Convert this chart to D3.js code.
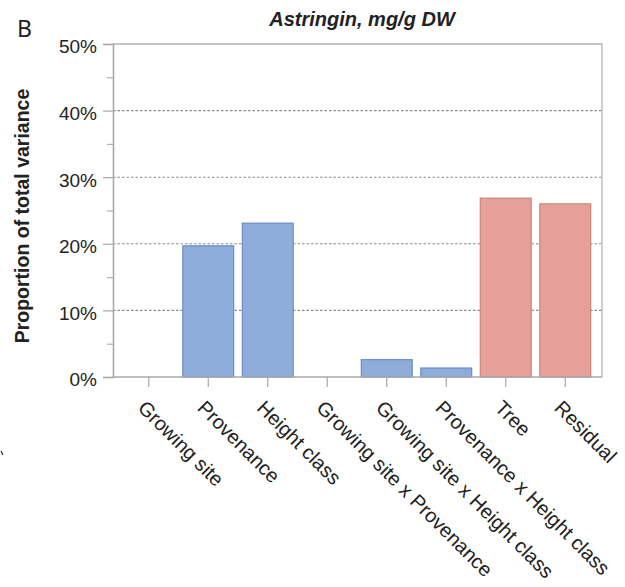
<!DOCTYPE html>
<html>
<head>
<meta charset="utf-8">
<script src="https://cdn.jsdelivr.net/npm/d3@7"></script>
<style>
  html, body { margin: 0; padding: 0; background: #fff; }
  svg { display: block; }
  text { font-family: "Liberation Sans", Arial, sans-serif; fill: #222; }
</style>
</head>
<body>
<div id="chart"></div>
<script>
// Variance components for astringin content
const categories = [
  "Growing site",
  "Provenance",
  "Height class",
  "Growing site x Provenance",
  "Growing site x Height class",
  "Provenance x Height class",
  "Tree",
  "Residual"
];
const proportions = [0, 0.197, 0.231, 0, 0.026, 0.0135, 0.2685, 0.26];
const groups = ["fixed", "fixed", "fixed", "fixed", "fixed", "fixed", "random", "random"];
const majorTicks = [0, 0.1, 0.2, 0.3, 0.4, 0.5];
const minorTicks = [0.05, 0.15, 0.25, 0.35, 0.45];
const gridTicks = [0.1, 0.2, 0.3, 0.4];

const W = 625, H = 587;
const plot = { left: 113, right: 602, top: 44, bottom: 377 };

const fills = { fixed: "#8eadda", random: "#e6a099" };
const strokes = { fixed: "#6a8cc6", random: "#cc827b" };

const svg = d3.select("#chart").append("svg")
  .attr("width", W).attr("height", H);

const x = d3.scaleBand()
  .domain(categories)
  .range([119, 595])
  .paddingInner(0.145)
  .paddingOuter(0.0725);

const y = d3.scaleLinear()
  .domain([0, 0.5])
  .range([plot.bottom, plot.top]);

// dotted gridlines
svg.append("g").selectAll("line")
  .data(gridTicks)
  .join("line")
  .attr("x1", plot.left).attr("x2", plot.right)
  .attr("y1", d => y(d)).attr("y2", d => y(d))
  .attr("stroke", "#8a8a8a")
  .attr("stroke-width", 1.1)
  .attr("stroke-dasharray", "2.5,2");

// frame: top and right edges
svg.append("path")
  .attr("d", `M${plot.left},${plot.top}H${plot.right}V${plot.bottom}`)
  .attr("fill", "none")
  .attr("stroke", "#b5b5b5")
  .attr("stroke-width", 1.3);

// bars
svg.append("g").selectAll("rect")
  .data(categories.map((c, i) => ({ c, v: proportions[i], g: groups[i] })).filter(d => d.v > 0))
  .join("rect")
  .attr("x", d => x(d.c))
  .attr("width", x.bandwidth())
  .attr("y", d => y(d.v))
  .attr("height", d => y(0) - y(d.v))
  .attr("fill", d => fills[d.g])
  .attr("stroke", d => strokes[d.g])
  .attr("stroke-width", 1.2);

// minor y ticks
const yMinor = svg.append("g")
  .attr("transform", `translate(${plot.left},0)`)
  .call(d3.axisLeft(y).tickValues(minorTicks).tickSize(6).tickFormat(""));
yMinor.select(".domain").remove();
yMinor.selectAll("line").attr("stroke", "#b0b0b0").attr("stroke-width", 1.2);

// major y axis
const yAxis = svg.append("g")
  .attr("transform", `translate(${plot.left},0)`)
  .call(d3.axisLeft(y).tickValues(majorTicks).tickSize(10).tickPadding(6).tickFormat(d3.format(".0%")));
yAxis.select(".domain").attr("stroke", "#a8a8a8").attr("stroke-width", 1.6);
yAxis.selectAll(".tick line").attr("stroke", "#a8a8a8").attr("stroke-width", 1.2);
yAxis.selectAll(".tick text")
  .attr("font-size", 19)
  .attr("font-family", "Liberation Sans, Arial, sans-serif")
  .attr("fill", "#222")
  .attr("dy", "0.47em");

// x axis
const xAxis = svg.append("g")
  .attr("transform", `translate(0,${plot.bottom})`)
  .call(d3.axisBottom(x).tickSize(10).tickSizeOuter(0));
xAxis.select(".domain")
  .attr("d", `M${plot.left},0H${plot.right}`)
  .attr("stroke", "#a8a8a8").attr("stroke-width", 1.6);
xAxis.selectAll(".tick line").attr("stroke", "#a8a8a8").attr("stroke-width", 1.2);
xAxis.selectAll(".tick text")
  .attr("font-size", 20)
  .attr("font-family", "Liberation Sans, Arial, sans-serif")
  .attr("fill", "#222")
  .attr("text-anchor", "start")
  .attr("x", 0).attr("y", 0).attr("dy", 0)
  .attr("transform", "translate(-12,32) rotate(45)");

// axis title
svg.append("text")
  .attr("transform", "translate(29,216) rotate(-90)")
  .attr("text-anchor", "middle")
  .attr("font-size", 19.5)
  .attr("font-weight", "bold")
  .text("Proportion of total variance");

// chart title
svg.append("text")
  .attr("x", 362).attr("y", 25.5)
  .attr("text-anchor", "middle")
  .attr("font-size", 20)
  .attr("font-weight", "bold")
  .attr("font-style", "italic")
  .text("Astringin, mg/g DW");

// panel letter
svg.append("text")
  .attr("x", 17).attr("y", 37)
  .attr("font-size", 23)
  .style("font-family", "'Noto Sans', 'Open Sans', sans-serif")
  .text("B");

// small stroke at the left margin
svg.append("line")
  .attr("x1", 1).attr("y1", 451).attr("x2", 3).attr("y2", 455)
  .attr("stroke", "#333").attr("stroke-width", 1.2);
</script>
</body>
</html>
